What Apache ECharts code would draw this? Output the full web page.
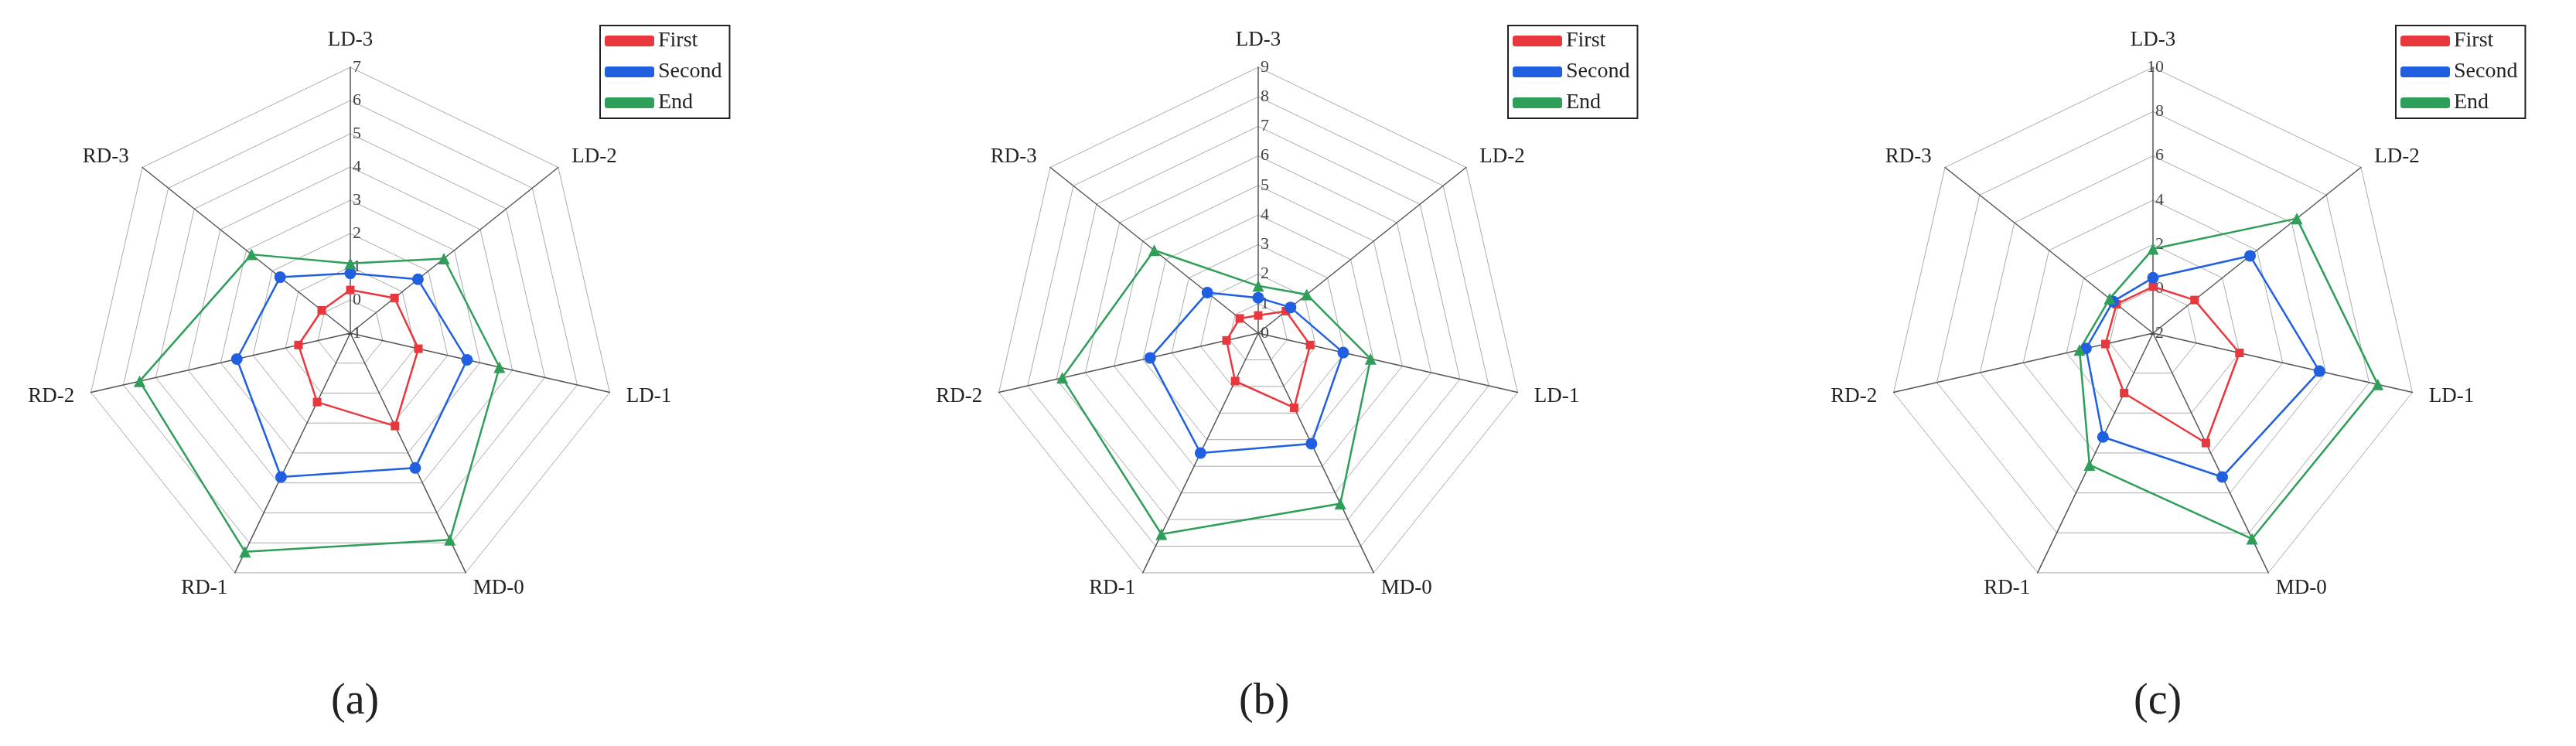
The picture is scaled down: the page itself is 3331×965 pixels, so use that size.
<!DOCTYPE html>
<html>
<head>
<meta charset="utf-8">
<script src="https://cdn.jsdelivr.net/npm/echarts@6/dist/echarts.min.js"></script>
<style>
  html, body { margin: 0; padding: 0; background: #fff; }
  #chart { width: 3331px; height: 965px; }
</style>
</head>
<body>
<div id="chart"></div>
<script>
// axes listed clockwise from the top, as in the figure
const axesClockwise = ["LD-3", "LD-2", "LD-1", "MD-0", "RD-1", "RD-2", "RD-3"]
const seriesNames = ["First", "Second", "End"]
const panelLabels = ["(a)", "(b)", "(c)"]
const panelMin = [-1, 0, -2]
const panelMax = [7, 9, 10]
const panelSplits = [8, 9, 6]

const firstA = [0.3, 0.7, 1.1, 2.1, 1.3, 0.6, 0.1]
const secondA = [0.8, 1.6, 2.6, 3.5, 3.8, 2.5, 1.7]
const endA = [1.1, 2.6, 3.6, 5.9, 6.3, 5.5, 2.8]

const firstB = [0.6, 1.2, 1.8, 2.8, 1.8, 1.1, 0.8]
const secondB = [1.2, 1.4, 2.95, 4.15, 4.5, 3.75, 2.2]
const endB = [1.6, 2.1, 3.9, 6.4, 7.55, 6.8, 4.5]

const firstC = [0.1, 0.4, 2.0, 3.5, 1.0, 0.2, 0.1]
const secondC = [0.5, 3.6, 5.7, 5.2, 3.2, 1.1, 0.3]
const endC = [1.8, 6.3, 8.4, 8.3, 4.6, 1.4, 0.5]

const panels = [[firstA, secondA, endA], [firstB, secondB, endB], [firstC, secondC, endC]]

const colors = ["#e8383d", "#1f5fe0", "#2e9e58"]
const symbols = ["rect", "circle", "triangle"]
const symbolSizes = [11, 15, 15]

const centersX = [453, 1627, 2784]
const legendX = [776, 1950, 3098]
const FONT = "Liberation Serif"

// echarts lays indicators out counter-clockwise; reorder so the picture reads clockwise
const order = [0, 6, 5, 4, 3, 2, 1]
const ccw = arr => order.map(i => arr[i])

const chart = echarts.init(document.getElementById("chart"), null, { renderer: "canvas" })

const radar = panels.map((_, p) => ({
  center: [centersX[p], 431],
  radius: 344,
  startAngle: 90,
  shape: "polygon",
  splitNumber: panelSplits[p],
  indicator: ccw(axesClockwise).map((name, i) => ({
    name,
    min: panelMin[p],
    max: panelMax[p]
  })),
  axisName: { color: "#222", fontFamily: FONT, fontSize: 27 },
  nameGap: 22,
  axisLine: { lineStyle: { color: "#555", width: 1.5 } },
  splitLine: { lineStyle: { color: "#aaa", width: 1 } },
  splitArea: { show: false },
  axisLabel: { show: false }
}))

// tick labels on the top (LD-3) axis only
radar.forEach((r, p) => {
  r.indicator[0].axisLabel = {
    show: true, color: "#444", fontFamily: FONT, fontSize: 22, margin: -14,
    showMinLabel: true, showMaxLabel: true
  }
})

const series = []
panels.forEach((vals, p) => {
  seriesNames.forEach((name, s) => {
    series.push({
      type: "radar",
      radarIndex: p,
      name,
      symbol: symbols[s],
      symbolSize: symbolSizes[s],
      lineStyle: { color: colors[s], width: 2.5 },
      itemStyle: { color: colors[s] },
      data: [{ value: ccw(vals[s]), name }]
    })
  })
})

const legend = legendX.map(x => ({
  left: x, top: 33,
  orient: "vertical",
  data: seriesNames,
  itemWidth: 64, itemHeight: 14, itemGap: 12,
  padding: [6, 10, 6, 6],
  borderColor: "#222", borderWidth: 2, borderRadius: 0,
  textStyle: { fontFamily: FONT, fontSize: 28, color: "#222" }
}))

const title = panelLabels.map((t, p) => ({
  text: t,
  left: centersX[p] - 30, top: 875,
  textStyle: { fontFamily: FONT, fontSize: 56, fontWeight: "normal", color: "#222" }
}))

chart.setOption({
  animation: false,
  color: colors,
  title,
  legend,
  radar,
  series
})
</script>
</body>
</html>
